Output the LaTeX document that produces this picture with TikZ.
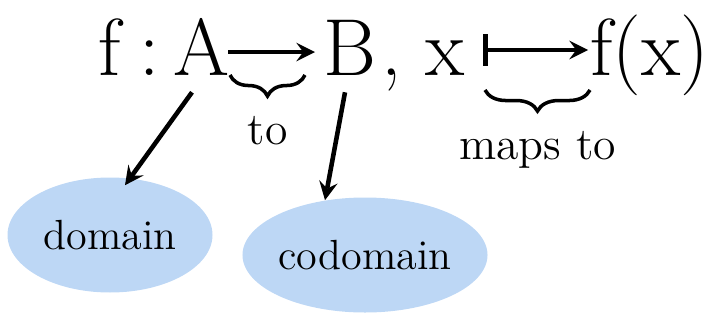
\documentclass[tikz,border=0pt]{standalone}
\usepackage{amsmath,amssymb}
\usepackage{tikz}
\usetikzlibrary{shapes.geometric,decorations.pathreplacing}
\definecolor{blob}{HTML}{BDD7F5}

\begin{document}
\begin{tikzpicture}[>=stealth, line width=1.3pt,
    big/.style={font=\fontsize{23}{28}\selectfont, inner sep=0pt, anchor=base},
    small/.style={font=\fontsize{13}{16}\selectfont},
    blobnode/.style={ellipse, fill=blob, inner sep=0pt, font=\fontsize{12}{14}\selectfont}]
    \useasboundingbox (0,0) rectangle (7.1,3.2);
    % top line
    \node[big] (f) at (1.1,2.45) {f};
    \node[big] (col) at (1.5,2.45) {:};
    \node[big] (A) at (2.02,2.45) {A};
    \node[big] (B) at (3.5,2.45) {B};
    \node[big] (cm) at (3.92,2.45) {,};
    \node[big] (x) at (4.45,2.45) {x};
    \node[big] (fx) at (6.5,2.45) {f(x)};
    \coordinate (a1) at (2.28,2.68);
    \coordinate (a2) at (3.15,2.68);
    \coordinate (m1) at (4.83,2.7);
    \coordinate (m2) at (5.88,2.7);
    \draw[->] (a1) -- (a2);
    \draw[|->] (m1) -- (m2);
    % braces
    \draw[line width=1pt, decorate, decoration={brace, mirror, amplitude=6pt}]
        (2.3,2.45) -- (3.05,2.45) node[midway, below=8pt, small] (to) {to};
    \draw[line width=1pt, decorate, decoration={brace, mirror, amplitude=6pt}]
        (4.85,2.3) -- (5.9,2.3) node[midway, below=8pt, small] (mt) {maps to};
    % domain and codomain
    \node[blobnode, minimum width=2.05cm, minimum height=1.15cm] (dom) at (1.1,0.85) {domain};
    \node[blobnode, minimum width=2.45cm, minimum height=1.15cm] (cod) at (3.65,0.65) {codomain};
    \draw[->] ([xshift=-0.1cm,yshift=-0.15cm]A.south) -- ([xshift=0.15cm,yshift=-0.1cm]dom.north);
    \draw[->] ([xshift=-0.05cm,yshift=-0.15cm]B.south) -- ([xshift=-0.4cm,yshift=-0.05cm]cod.north);
\end{tikzpicture}
\end{document}
